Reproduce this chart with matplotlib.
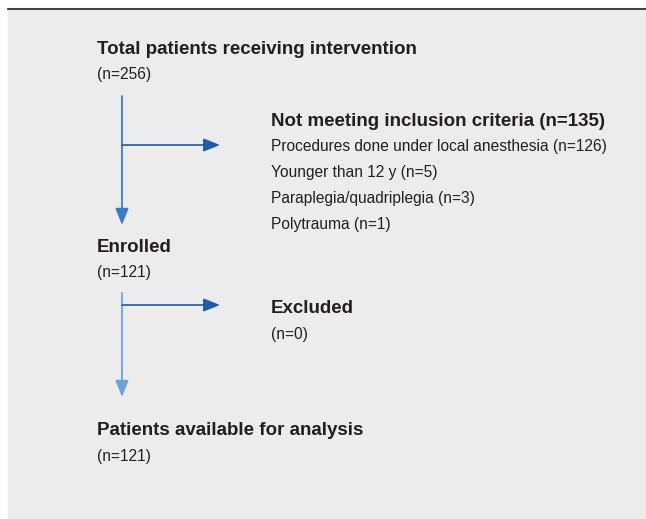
import matplotlib
matplotlib.use("Agg")
import matplotlib.pyplot as plt
from matplotlib.patches import Rectangle

# flowchart content
STAGES = ["Total patients receiving intervention", "Enrolled", "Patients available for analysis"]
STAGE_N = [256, 121, 121]
SIDE_TITLES = ["Not meeting inclusion criteria (n=135)", "Excluded"]
SIDE_ITEMS = [
    ["Procedures done under local anesthesia (n=126)",
     "Younger than 12 y (n=5)",
     "Paraplegia/quadriplegia (n=3)",
     "Polytrauma (n=1)"],
    ["(n=0)"],
]

FONT = ["Liberation Sans", "DejaVu Sans"]
BG = "#ececec"
TXT = "#231f20"


def main():
    fig = plt.figure(figsize=(6.46, 5.19), dpi=100)
    ax = fig.add_axes([0, 0, 1, 1])
    ax.set_xlim(0, 646)
    ax.set_ylim(519, 0)
    ax.axis("off")

    ax.add_patch(Rectangle((8, 8), 640, 512, color=BG, zorder=0))
    ax.plot([8, 646], [8.5, 8.5], color="#231f20", lw=1.2)

    # baselines, px from top
    stage_y = [54, 252, 435]
    for name, n, y in zip(STAGES, STAGE_N, stage_y):
        ax.text(97, y, name, family=FONT, weight="bold", fontsize=13.5,
                color=TXT, va="baseline", ha="left")
        ax.text(97, y + 25.5, f"(n={n})", family=FONT, fontsize=11.2,
                color=TXT, va="baseline", ha="left")

    side_y = [126, 313]
    for title, items, y in zip(SIDE_TITLES, SIDE_ITEMS, side_y):
        ax.text(271, y, title, family=FONT, weight="bold", fontsize=13.5,
                color=TXT, va="baseline", ha="left")
        for k, it in enumerate(items):
            ax.text(271, y + 25.5 + 25.7 * k, it, family=FONT, fontsize=11.2,
                    color=TXT, va="baseline", ha="left")

    # connectors
    vcol = ["#3d7cc4", "#6ea3da"]
    seg = [(96, 225, 145), (293, 397, 305)]
    for (y0, y1, yb), vc in zip(seg, vcol):
        ax.annotate("", xy=(122, y1), xytext=(122, y0),
                    arrowprops=dict(arrowstyle="-|>,head_length=1.0,head_width=0.4",
                                    color=vc, lw=1.3, shrinkA=0, shrinkB=0))
        ax.annotate("", xy=(220, yb), xytext=(122, yb),
                    arrowprops=dict(arrowstyle="-|>,head_length=1.0,head_width=0.4",
                                    color="#1f5ba6", lw=1.2, shrinkA=0, shrinkB=0))

    fig.savefig("out.png", dpi=100, facecolor="white")


if __name__ == "__main__":
    main()
